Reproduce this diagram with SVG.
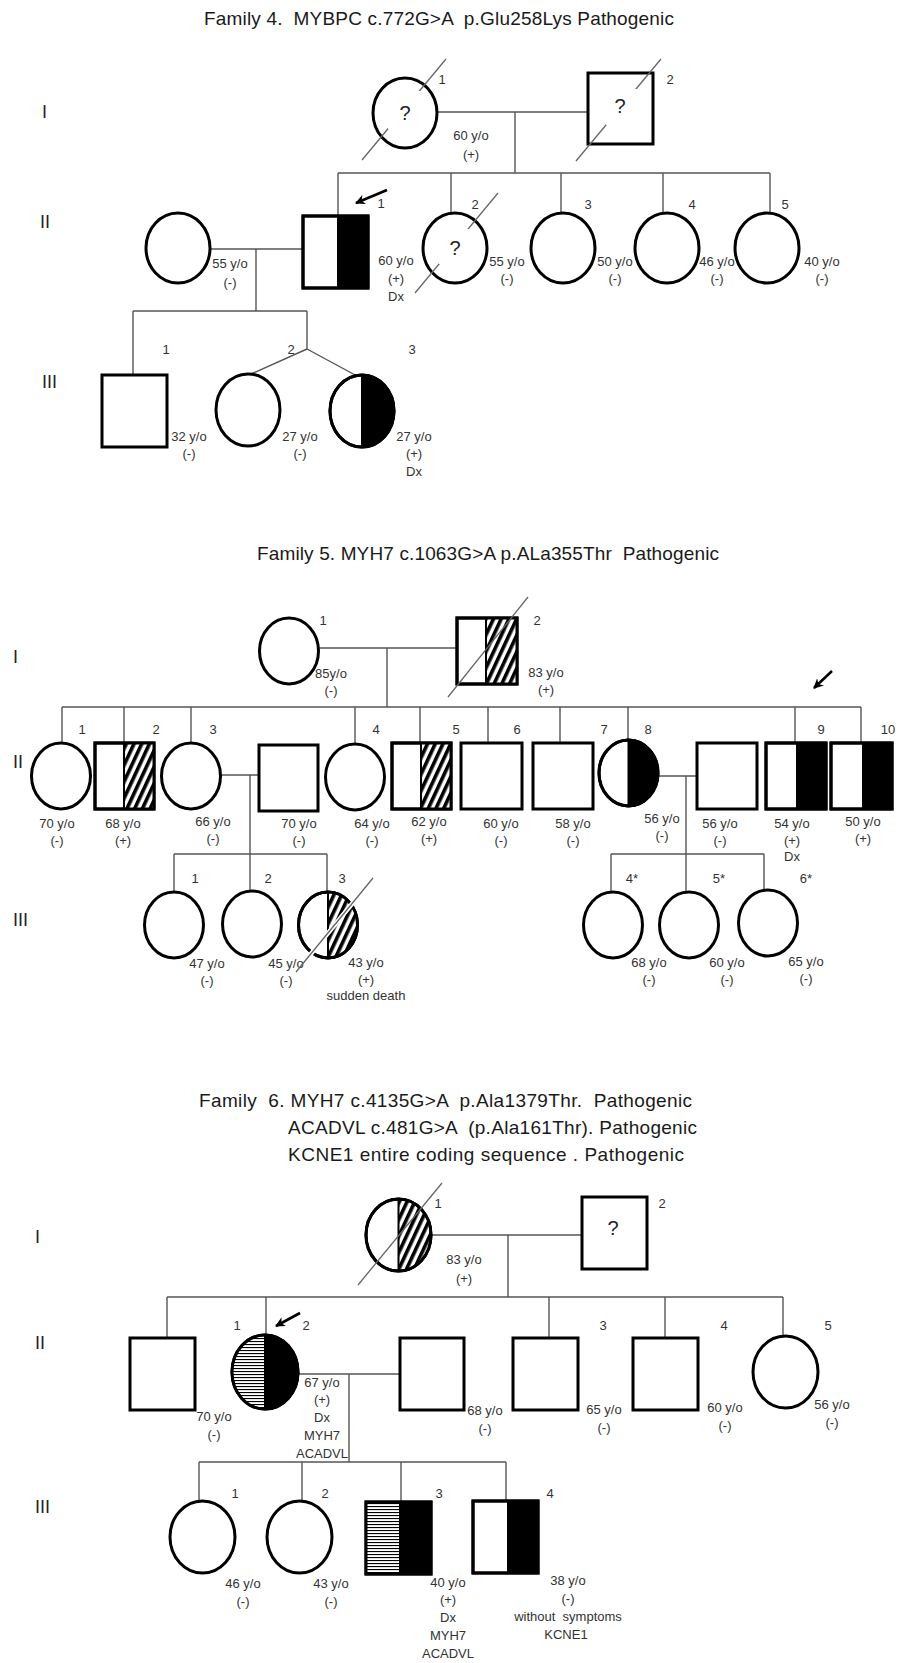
<svg xmlns="http://www.w3.org/2000/svg" width="908" height="1663" viewBox="0 0 908 1663">
<style>
.sh{fill:#fff;stroke:#000;stroke-width:3}
.blk{fill:#000;stroke:#000;stroke-width:2}
.dg{fill:url(#diag);stroke:#000;stroke-width:2}
.hs{fill:url(#hstripe);stroke:#000;stroke-width:2}
.ol{fill:none;stroke:#000;stroke-width:3}
.ln{stroke:#555;stroke-width:1.4;fill:none}
.sl{stroke:#666;stroke-width:1.3}
.slw{stroke:#fff;stroke-width:4.5}
.wb{fill:#fff;stroke:none}
.ar{stroke:#000;stroke-width:2.6;marker-end:url(#ah)}
text{font-family:"Liberation Sans",Arial,sans-serif;fill:#333}
.t{font-size:13px;text-anchor:middle}
.n{font-size:13px;text-anchor:middle}
.q{font-size:20px;text-anchor:middle;fill:#222}
.g{font-size:18px;fill:#222}
.ttl{font-size:19px;fill:#1a1a1a}
</style>
<defs>
<pattern id="diag" width="7" height="7" patternUnits="userSpaceOnUse" patternTransform="rotate(25)">
<rect width="7" height="7" fill="#fff"/><rect width="3.6" height="7" fill="#000"/>
</pattern>
<pattern id="hstripe" width="4" height="3" patternUnits="userSpaceOnUse">
<rect width="4" height="3" fill="#fff"/><rect width="4" height="1.1" fill="#000"/>
</pattern>
<marker id="ah" markerWidth="10" markerHeight="10" refX="9" refY="5" orient="auto" markerUnits="userSpaceOnUse">
<path d="M0,0 L10,5 L0,10 L3,5 Z" fill="#000"/>
</marker>
</defs>

<!-- ================= FAMILY 4 ================= -->
<text class="ttl" x="204" y="25" textLength="470" xml:space="preserve">Family 4.  MYBPC c.772G&gt;A  p.Glu258Lys Pathogenic</text>
<text class="g" x="42" y="118">I</text>
<text class="g" x="40" y="228">II</text>
<text class="g" x="42" y="388">III</text>

<g id="f4-connectors">
<line class="ln" x1="437" y1="112" x2="588" y2="112"/>
<line class="ln" x1="515" y1="112" x2="515" y2="173"/>
<line class="ln" x1="338" y1="173" x2="770" y2="173"/>
<line class="ln" x1="338" y1="173" x2="338" y2="216"/>
<line class="ln" x1="451" y1="173" x2="451" y2="213"/>
<line class="ln" x1="561" y1="173" x2="561" y2="213"/>
<line class="ln" x1="663" y1="173" x2="663" y2="213"/>
<line class="ln" x1="770" y1="173" x2="770" y2="213"/>
<line class="ln" x1="210" y1="249" x2="303" y2="249"/>
<line class="ln" x1="256" y1="249" x2="256" y2="311"/>
<line class="ln" x1="133" y1="311" x2="307" y2="311"/>
<line class="ln" x1="133" y1="311" x2="133" y2="375"/>
<line class="ln" x1="307" y1="311" x2="307" y2="349"/>
<line class="ln" x1="307" y1="349" x2="251" y2="374"/>
<line class="ln" x1="307" y1="349" x2="357" y2="376"/>
</g>

<g id="f4-I-1">
<ellipse class="sh" cx="405" cy="113" rx="32" ry="35"/>
<line class="sl" x1="362" y1="160" x2="446" y2="59"/>
<rect class="wb" x="388" y="91" width="32" height="38"/>
<text class="q" x="405" y="120">?</text>
<text class="n" x="442" y="84">1</text>
<text class="t" x="471" y="140">60 y/o</text>
<text class="t" x="471" y="159">(+)</text>
</g>
<g id="f4-I-2">
<rect class="sh" x="588" y="73" width="65" height="71"/>
<line class="sl" x1="576" y1="161" x2="661" y2="59"/>
<rect class="wb" x="606" y="89" width="31" height="36"/>
<text class="q" x="620" y="113">?</text>
<text class="n" x="670" y="84">2</text>
</g>

<g id="f4-II-spouse">
<ellipse class="sh" cx="178" cy="248" rx="32" ry="35"/>
<text class="t" x="230" y="268">55 y/o</text>
<text class="t" x="230" y="287">(-)</text>
</g>
<g id="f4-II-1">
<rect class="sh" x="303" y="216" width="65" height="72"/>
<rect class="blk" x="338" y="216" width="30" height="72"/>
<rect class="ol" x="303" y="216" width="65" height="72"/>
<line class="ar" x1="387" y1="190" x2="356" y2="203"/>
<text class="n" x="381" y="208">1</text>
<text class="t" x="396" y="265">60 y/o</text>
<text class="t" x="396" y="283">(+)</text>
<text class="t" x="396" y="301">Dx</text>
</g>
<g id="f4-II-2">
<ellipse class="sh" cx="455" cy="248" rx="32" ry="35"/>
<line class="sl" x1="415" y1="293" x2="498" y2="193"/>
<rect class="wb" x="439" y="229" width="31" height="35"/>
<text class="q" x="455" y="255">?</text>
<text class="n" x="475" y="209">2</text>
<text class="t" x="507" y="266">55 y/o</text>
<text class="t" x="507" y="283">(-)</text>
</g>
<g id="f4-II-3">
<ellipse class="sh" cx="563" cy="248" rx="32" ry="35"/>
<text class="n" x="588" y="209">3</text>
<text class="t" x="615" y="266">50 y/o</text>
<text class="t" x="615" y="283">(-)</text>
</g>
<g id="f4-II-4">
<ellipse class="sh" cx="667" cy="248" rx="32" ry="35"/>
<text class="n" x="692" y="209">4</text>
<text class="t" x="717" y="266">46 y/o</text>
<text class="t" x="717" y="283">(-)</text>
</g>
<g id="f4-II-5">
<ellipse class="sh" cx="767" cy="248" rx="32" ry="35"/>
<text class="n" x="785" y="209">5</text>
<text class="t" x="822" y="266">40 y/o</text>
<text class="t" x="822" y="283">(-)</text>
</g>

<g id="f4-III-1">
<rect class="sh" x="102" y="375" width="65" height="72"/>
<text class="n" x="166" y="354">1</text>
<text class="t" x="189" y="441">32 y/o</text>
<text class="t" x="189" y="458">(-)</text>
</g>
<g id="f4-III-2">
<ellipse class="sh" cx="248" cy="410" rx="32" ry="36"/>
<text class="n" x="291" y="354">2</text>
<text class="t" x="300" y="441">27 y/o</text>
<text class="t" x="300" y="458">(-)</text>
</g>
<g id="f4-III-3">
<ellipse class="sh" cx="362" cy="411" rx="32" ry="36"/>
<path class="blk" d="M362,375 A32,36 0 0 1 362,447 Z"/>
<ellipse class="ol" cx="362" cy="411" rx="32" ry="36"/>
<text class="n" x="412" y="354">3</text>
<text class="t" x="414" y="441">27 y/o</text>
<text class="t" x="414" y="458">(+)</text>
<text class="t" x="414" y="476">Dx</text>
</g>

<!-- ================= FAMILY 5 ================= -->
<text class="ttl" x="257" y="560" textLength="462" xml:space="preserve">Family 5. MYH7 c.1063G&gt;A p.ALa355Thr  Pathogenic</text>
<text class="g" x="13" y="663">I</text>
<text class="g" x="13" y="768">II</text>
<text class="g" x="13" y="926">III</text>

<g id="f5-connectors">
<line class="ln" x1="318" y1="648" x2="457" y2="648"/>
<line class="ln" x1="387" y1="648" x2="387" y2="707"/>
<line class="ln" x1="62" y1="707" x2="861" y2="707"/>
<line class="ln" x1="62" y1="707" x2="62" y2="743"/>
<line class="ln" x1="124" y1="707" x2="124" y2="743"/>
<line class="ln" x1="191" y1="707" x2="191" y2="743"/>
<line class="ln" x1="355" y1="707" x2="355" y2="744"/>
<line class="ln" x1="420" y1="707" x2="420" y2="743"/>
<line class="ln" x1="488" y1="707" x2="488" y2="743"/>
<line class="ln" x1="560" y1="707" x2="560" y2="743"/>
<line class="ln" x1="628" y1="707" x2="628" y2="740"/>
<line class="ln" x1="795" y1="707" x2="795" y2="743"/>
<line class="ln" x1="861" y1="707" x2="861" y2="743"/>
<line class="ln" x1="221" y1="775" x2="259" y2="775"/>
<line class="ln" x1="250" y1="775" x2="250" y2="892"/>
<line class="ln" x1="174" y1="854" x2="327" y2="854"/>
<line class="ln" x1="174" y1="854" x2="174" y2="892"/>
<line class="ln" x1="327" y1="854" x2="327" y2="892"/>
<line class="ln" x1="658" y1="776" x2="697" y2="776"/>
<line class="ln" x1="686" y1="776" x2="686" y2="892"/>
<line class="ln" x1="611" y1="854" x2="764" y2="854"/>
<line class="ln" x1="611" y1="854" x2="611" y2="892"/>
<line class="ln" x1="764" y1="854" x2="764" y2="890"/>
</g>

<g id="f5-I-1">
<ellipse class="sh" cx="289" cy="651" rx="29.5" ry="33"/>
<text class="n" x="323" y="625">1</text>
<text class="t" x="331" y="678">85y/o</text>
<text class="t" x="331" y="695">(-)</text>
</g>
<g id="f5-I-2">
<rect class="sh" x="457" y="618" width="60" height="66"/>
<rect class="dg" x="486" y="618" width="31" height="66"/>
<rect class="ol" x="457" y="618" width="60" height="66"/>
<line class="sl" x1="448" y1="697" x2="528" y2="597"/>
<text class="n" x="537" y="625">2</text>
<text class="t" x="546" y="677">83 y/o</text>
<text class="t" x="546" y="694">(+)</text>
</g>

<g id="f5-II-1">
<ellipse class="sh" cx="61" cy="776" rx="29.5" ry="33"/>
<text class="n" x="82" y="734">1</text>
<text class="t" x="57" y="828">70 y/o</text>
<text class="t" x="57" y="845">(-)</text>
</g>
<g id="f5-II-2">
<rect class="sh" x="95" y="743" width="59" height="66"/>
<rect class="dg" x="124" y="743" width="30" height="66"/>
<rect class="ol" x="95" y="743" width="59" height="66"/>
<text class="n" x="156" y="734">2</text>
<text class="t" x="123" y="828">68 y/o</text>
<text class="t" x="123" y="845">(+)</text>
</g>
<g id="f5-II-3">
<ellipse class="sh" cx="191" cy="776" rx="29.5" ry="33"/>
<text class="n" x="213" y="734">3</text>
<text class="t" x="213" y="826">66 y/o</text>
<text class="t" x="213" y="843">(-)</text>
</g>
<g id="f5-II-3-spouse">
<rect class="sh" x="259" y="745" width="59" height="66"/>
<text class="t" x="299" y="828">70 y/o</text>
<text class="t" x="299" y="845">(-)</text>
</g>
<g id="f5-II-4">
<ellipse class="sh" cx="355" cy="777" rx="29.5" ry="33"/>
<text class="n" x="376" y="734">4</text>
<text class="t" x="372" y="828">64 y/o</text>
<text class="t" x="372" y="845">(-)</text>
</g>
<g id="f5-II-5">
<rect class="sh" x="392" y="743" width="59" height="66"/>
<rect class="dg" x="421" y="743" width="30" height="66"/>
<rect class="ol" x="392" y="743" width="59" height="66"/>
<text class="n" x="456" y="734">5</text>
<text class="t" x="429" y="826">62 y/o</text>
<text class="t" x="429" y="843">(+)</text>
</g>
<g id="f5-II-6">
<rect class="sh" x="461" y="743" width="61" height="66"/>
<text class="n" x="517" y="734">6</text>
<text class="t" x="501" y="828">60 y/o</text>
<text class="t" x="501" y="845">(-)</text>
</g>
<g id="f5-II-7">
<rect class="sh" x="533" y="743" width="60" height="66"/>
<text class="n" x="604" y="734">7</text>
<text class="t" x="573" y="828">58 y/o</text>
<text class="t" x="573" y="845">(-)</text>
</g>
<g id="f5-II-8">
<ellipse class="sh" cx="628.5" cy="773" rx="29.5" ry="33"/>
<path class="blk" d="M628.5,740 A29.5,33 0 0 1 628.5,806 Z"/>
<ellipse class="ol" cx="628.5" cy="773" rx="29.5" ry="33"/>
<text class="n" x="648" y="734">8</text>
<text class="t" x="662" y="823">56 y/o</text>
<text class="t" x="662" y="840">(-)</text>
</g>
<g id="f5-II-8-spouse">
<rect class="sh" x="697" y="743" width="60" height="66"/>
<text class="t" x="720" y="828">56 y/o</text>
<text class="t" x="720" y="845">(-)</text>
</g>
<g id="f5-II-9">
<rect class="sh" x="766" y="743" width="60" height="66"/>
<rect class="blk" x="797" y="743" width="29" height="66"/>
<rect class="ol" x="766" y="743" width="60" height="66"/>
<line class="ar" x1="832" y1="671" x2="814" y2="688"/>
<text class="n" x="821" y="734">9</text>
<text class="t" x="792" y="828">54 y/o</text>
<text class="t" x="792" y="845">(+)</text>
<text class="t" x="792" y="861">Dx</text>
</g>
<g id="f5-II-10">
<rect class="sh" x="831" y="743" width="61" height="66"/>
<rect class="blk" x="863" y="743" width="29" height="66"/>
<rect class="ol" x="831" y="743" width="61" height="66"/>
<text class="n" x="888" y="734">10</text>
<text class="t" x="863" y="826">50 y/o</text>
<text class="t" x="863" y="843">(+)</text>
</g>

<g id="f5-III-1">
<ellipse class="sh" cx="174" cy="925" rx="29.5" ry="33"/>
<text class="n" x="195" y="883">1</text>
<text class="t" x="207" y="968">47 y/o</text>
<text class="t" x="207" y="985">(-)</text>
</g>
<g id="f5-III-2">
<ellipse class="sh" cx="252" cy="924" rx="29.5" ry="33"/>
<text class="n" x="268" y="883">2</text>
<text class="t" x="286" y="968">45 y/o</text>
<text class="t" x="286" y="985">(-)</text>
</g>
<g id="f5-III-3">
<ellipse class="sh" cx="328" cy="925" rx="29.5" ry="33"/>
<path class="dg" d="M328,892 A29.5,33 0 0 1 328,958 Z"/>
<ellipse class="ol" cx="328" cy="925" rx="29.5" ry="33"/>
<line class="slw" x1="310" y1="955" x2="356" y2="899"/>
<line class="sl" x1="296" y1="972" x2="373" y2="878"/>
<text class="n" x="342" y="883">3</text>
<text class="t" x="366" y="967">43 y/o</text>
<text class="t" x="366" y="984">(+)</text>
<text class="t" x="366" y="1000">sudden death</text>
</g>
<g id="f5-III-4">
<ellipse class="sh" cx="613" cy="925" rx="29.5" ry="33"/>
<text class="n" x="632" y="883">4*</text>
<text class="t" x="649" y="967">68 y/o</text>
<text class="t" x="649" y="984">(-)</text>
</g>
<g id="f5-III-5">
<ellipse class="sh" cx="689" cy="925" rx="29.5" ry="33"/>
<text class="n" x="719" y="883">5*</text>
<text class="t" x="727" y="967">60 y/o</text>
<text class="t" x="727" y="984">(-)</text>
</g>
<g id="f5-III-6">
<ellipse class="sh" cx="768" cy="923" rx="29.5" ry="33"/>
<text class="n" x="806" y="883">6*</text>
<text class="t" x="806" y="966">65 y/o</text>
<text class="t" x="806" y="983">(-)</text>
</g>

<!-- ================= FAMILY 6 ================= -->
<text class="ttl" x="199" y="1107" textLength="493" xml:space="preserve">Family  6. MYH7 c.4135G&gt;A  p.Ala1379Thr.  Pathogenic</text>
<text class="ttl" x="288" y="1134" textLength="409" xml:space="preserve">ACADVL c.481G&gt;A  (p.Ala161Thr). Pathogenic</text>
<text class="ttl" x="288" y="1161" textLength="396" xml:space="preserve">KCNE1 entire coding sequence . Pathogenic</text>
<text class="g" x="35" y="1243">I</text>
<text class="g" x="35" y="1349">II</text>
<text class="g" x="35" y="1513">III</text>

<g id="f6-connectors">
<line class="ln" x1="431" y1="1235" x2="582" y2="1235"/>
<line class="ln" x1="508" y1="1235" x2="508" y2="1297"/>
<line class="ln" x1="167" y1="1297" x2="783" y2="1297"/>
<line class="ln" x1="167" y1="1297" x2="167" y2="1338"/>
<line class="ln" x1="266" y1="1297" x2="266" y2="1335"/>
<line class="ln" x1="549" y1="1297" x2="549" y2="1338"/>
<line class="ln" x1="665" y1="1297" x2="665" y2="1338"/>
<line class="ln" x1="783" y1="1297" x2="783" y2="1336"/>
<line class="ln" x1="298" y1="1374" x2="400" y2="1374"/>
<line class="ln" x1="349" y1="1374" x2="349" y2="1462"/>
<line class="ln" x1="199" y1="1462" x2="506" y2="1462"/>
<line class="ln" x1="199" y1="1462" x2="199" y2="1501"/>
<line class="ln" x1="302" y1="1462" x2="302" y2="1501"/>
<line class="ln" x1="401" y1="1462" x2="401" y2="1502"/>
<line class="ln" x1="506" y1="1462" x2="506" y2="1501"/>
</g>

<g id="f6-I-1">
<ellipse class="sh" cx="398.5" cy="1235" rx="32.5" ry="36"/>
<path class="dg" d="M398.5,1199 A32.5,36 0 0 1 398.5,1271 Z"/>
<ellipse class="ol" cx="398.5" cy="1235" rx="32.5" ry="36"/>
<line class="sl" x1="358" y1="1285" x2="442" y2="1183"/>
<text class="n" x="438" y="1208">1</text>
<text class="t" x="464" y="1264">83 y/o</text>
<text class="t" x="464" y="1283">(+)</text>
</g>
<g id="f6-I-2">
<rect class="sh" x="582" y="1197" width="65" height="72"/>
<text class="q" x="613" y="1235">?</text>
<text class="n" x="662" y="1208">2</text>
</g>

<g id="f6-II-1">
<rect class="sh" x="130" y="1338" width="65" height="72"/>
<text class="t" x="214" y="1421">70 y/o</text>
<text class="t" x="214" y="1439">(-)</text>
</g>
<g id="f6-II-2">
<ellipse class="sh" cx="265" cy="1372" rx="33" ry="37"/>
<path class="hs" d="M265,1335 A33,37 0 0 0 265,1409 Z"/>
<path class="blk" d="M265,1335 A33,37 0 0 1 265,1409 Z"/>
<ellipse class="ol" cx="265" cy="1372" rx="33" ry="37"/>
<text class="n" x="237" y="1330">1</text>
<line class="ar" x1="300" y1="1313" x2="276" y2="1326"/>
<text class="n" x="306" y="1330">2</text>
<text class="t" x="322" y="1387">67 y/o</text>
<text class="t" x="322" y="1404">(+)</text>
<text class="t" x="322" y="1422">Dx</text>
<text class="t" x="322" y="1440">MYH7</text>
<text class="t" x="322" y="1458">ACADVL</text>
</g>
<g id="f6-II-2-spouse">
<rect class="sh" x="400" y="1338" width="64" height="72"/>
<text class="t" x="485" y="1415">68 y/o</text>
<text class="t" x="485" y="1433">(-)</text>
</g>
<g id="f6-II-3">
<rect class="sh" x="513" y="1338" width="65" height="72"/>
<text class="n" x="603" y="1330">3</text>
<text class="t" x="604" y="1414">65 y/o</text>
<text class="t" x="604" y="1432">(-)</text>
</g>
<g id="f6-II-4">
<rect class="sh" x="633" y="1338" width="65" height="72"/>
<text class="n" x="724" y="1330">4</text>
<text class="t" x="725" y="1412">60 y/o</text>
<text class="t" x="725" y="1430">(-)</text>
</g>
<g id="f6-II-5">
<ellipse class="sh" cx="785.5" cy="1372" rx="32.5" ry="36"/>
<text class="n" x="828" y="1330">5</text>
<text class="t" x="832" y="1409">56 y/o</text>
<text class="t" x="832" y="1427">(-)</text>
</g>

<g id="f6-III-1">
<ellipse class="sh" cx="202.5" cy="1537" rx="32.5" ry="36"/>
<text class="n" x="235" y="1498">1</text>
<text class="t" x="243" y="1588">46 y/o</text>
<text class="t" x="243" y="1606">(-)</text>
</g>
<g id="f6-III-2">
<ellipse class="sh" cx="299.5" cy="1537" rx="32.5" ry="36"/>
<text class="n" x="325" y="1498">2</text>
<text class="t" x="331" y="1588">43 y/o</text>
<text class="t" x="331" y="1606">(-)</text>
</g>
<g id="f6-III-3">
<rect class="sh" x="366" y="1502" width="65" height="72"/>
<rect class="hs" x="366" y="1502" width="34" height="72"/>
<rect class="blk" x="400" y="1502" width="31" height="72"/>
<rect class="ol" x="366" y="1502" width="65" height="72"/>
<text class="n" x="439" y="1498">3</text>
<text class="t" x="448" y="1587">40 y/o</text>
<text class="t" x="448" y="1604">(+)</text>
<text class="t" x="448" y="1622">Dx</text>
<text class="t" x="448" y="1640">MYH7</text>
<text class="t" x="448" y="1658">ACADVL</text>
</g>
<g id="f6-III-4">
<rect class="sh" x="473" y="1501" width="65" height="72"/>
<rect class="blk" x="508" y="1501" width="30" height="72"/>
<rect class="ol" x="473" y="1501" width="65" height="72"/>
<text class="n" x="550" y="1498">4</text>
<text class="t" x="568" y="1585">38 y/o</text>
<text class="t" x="568" y="1603">(-)</text>
<text class="t" x="568" y="1621" xml:space="preserve">without  symptoms</text>
<text class="t" x="566" y="1639">KCNE1</text>
</g>
</svg>
